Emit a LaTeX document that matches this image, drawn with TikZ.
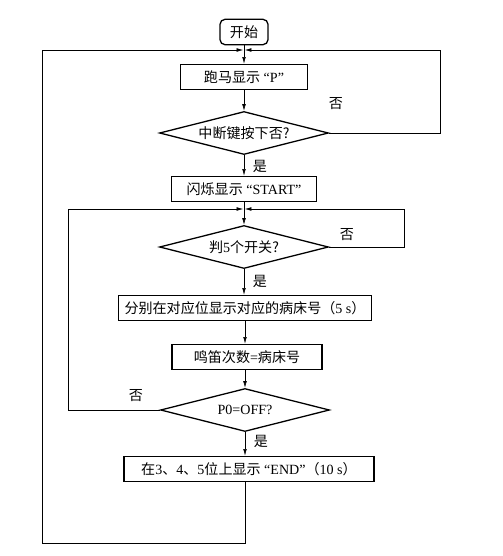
\documentclass[tikz,border=0pt]{standalone}
\usepackage{fontspec}
\setmainfont{Liberation Serif}
\newfontfamily\cjk{Noto Sans CJK SC}
\usetikzlibrary{arrows.meta,shapes.geometric}
\tikzset{box/.style={draw,line width=1.1pt,inner sep=0pt,minimum height=0.76cm,align=center},
  startbox/.style={box,rounded corners=1.5mm},
  test/.style={draw,diamond,aspect=3.9,line width=1.1pt,inner sep=0pt,minimum width=5.07cm,minimum height=1.29cm},
  flow/.style={-{Latex[length=2mm,width=1.1mm]},line width=0.5pt},
  tag/.style={font=\fontsize{12}{14}\selectfont\cjk}}

\begin{document}
\begin{tikzpicture}[x=0.03cm,y=-0.03cm,font=\fontsize{12}{14}\selectfont]
\useasboundingbox (0,0) rectangle (503,556);
\node[startbox,minimum width=1.44cm] (start) at (244,32) {\cjk 开始};
\node[box,minimum width=3.81cm] (run) at (244,77) {{\cjk 跑马显示} “P”};
\node[test] (key) at (244,133) {\cjk 中断键按下否?};
\node[box,minimum width=4.35cm] (flash) at (244,189) {{\cjk 闪烁显示} “START”};
\node[test] (sw) at (244,247) {{\cjk 判}5{\cjk 个开关?}};
\node[box,minimum width=7.59cm] (bed) at (245,308) {{\cjk 分别在对应位显示对应的病床号（}5 s{\cjk ）}};
\node[box,minimum width=4.5cm] (beep) at (247,357) {{\cjk 鸣笛次数}={\cjk 病床号}};
\node[test] (off) at (245,410) {P0=OFF?};
\node[box,minimum width=7.5cm] (stop) at (249,469) {{\cjk 在}3{\cjk 、}4{\cjk 、}5{\cjk 位上显示} “END”{\cjk （}10 s{\cjk ）}};
% merge points and corners
\coordinate (m1) at (244,50);
\coordinate (m2) at (244,209);
\coordinate (r1) at (440,50);
\coordinate (r2) at (404,209);
\coordinate (l2) at (68,209);
\coordinate (c1) at (42,543);
% main line
\draw[flow] (start) -- (run);
\draw[flow] (run) -- (key);
\draw[flow] (key) -- node[tag,right=4pt,pos=0.55]{是} (flash);
\draw[flow] (flash) -- (sw);
\draw[flow] (sw) -- node[tag,right=4pt,pos=0.5]{是} (bed.north -| sw);
\draw[flow] (bed.south -| off) -- (beep.north -| off);
\draw[flow] (beep.south -| off) -- (off);
\draw[flow] (off) -- node[tag,right=4pt,pos=0.4]{是} (stop.north -| off);
% loops back
\draw[flow] (key.east) -| (r1) -- ([xshift=0.6pt]m1);
\draw[flow] (sw.east) -| (r2) -- ([xshift=0.6pt]m2);
\draw[flow] (off.west) -| (l2) -- ([xshift=-0.6pt]m2);
\draw[flow] (stop.south -| off) |- (c1) |- ([xshift=-0.6pt]m1);
\node[tag] (no1) at (336,104) {否};
\node[tag] (no2) at (347,235) {否};
\node[tag] (no3) at (136,396) {否};
\end{tikzpicture}
\end{document}
